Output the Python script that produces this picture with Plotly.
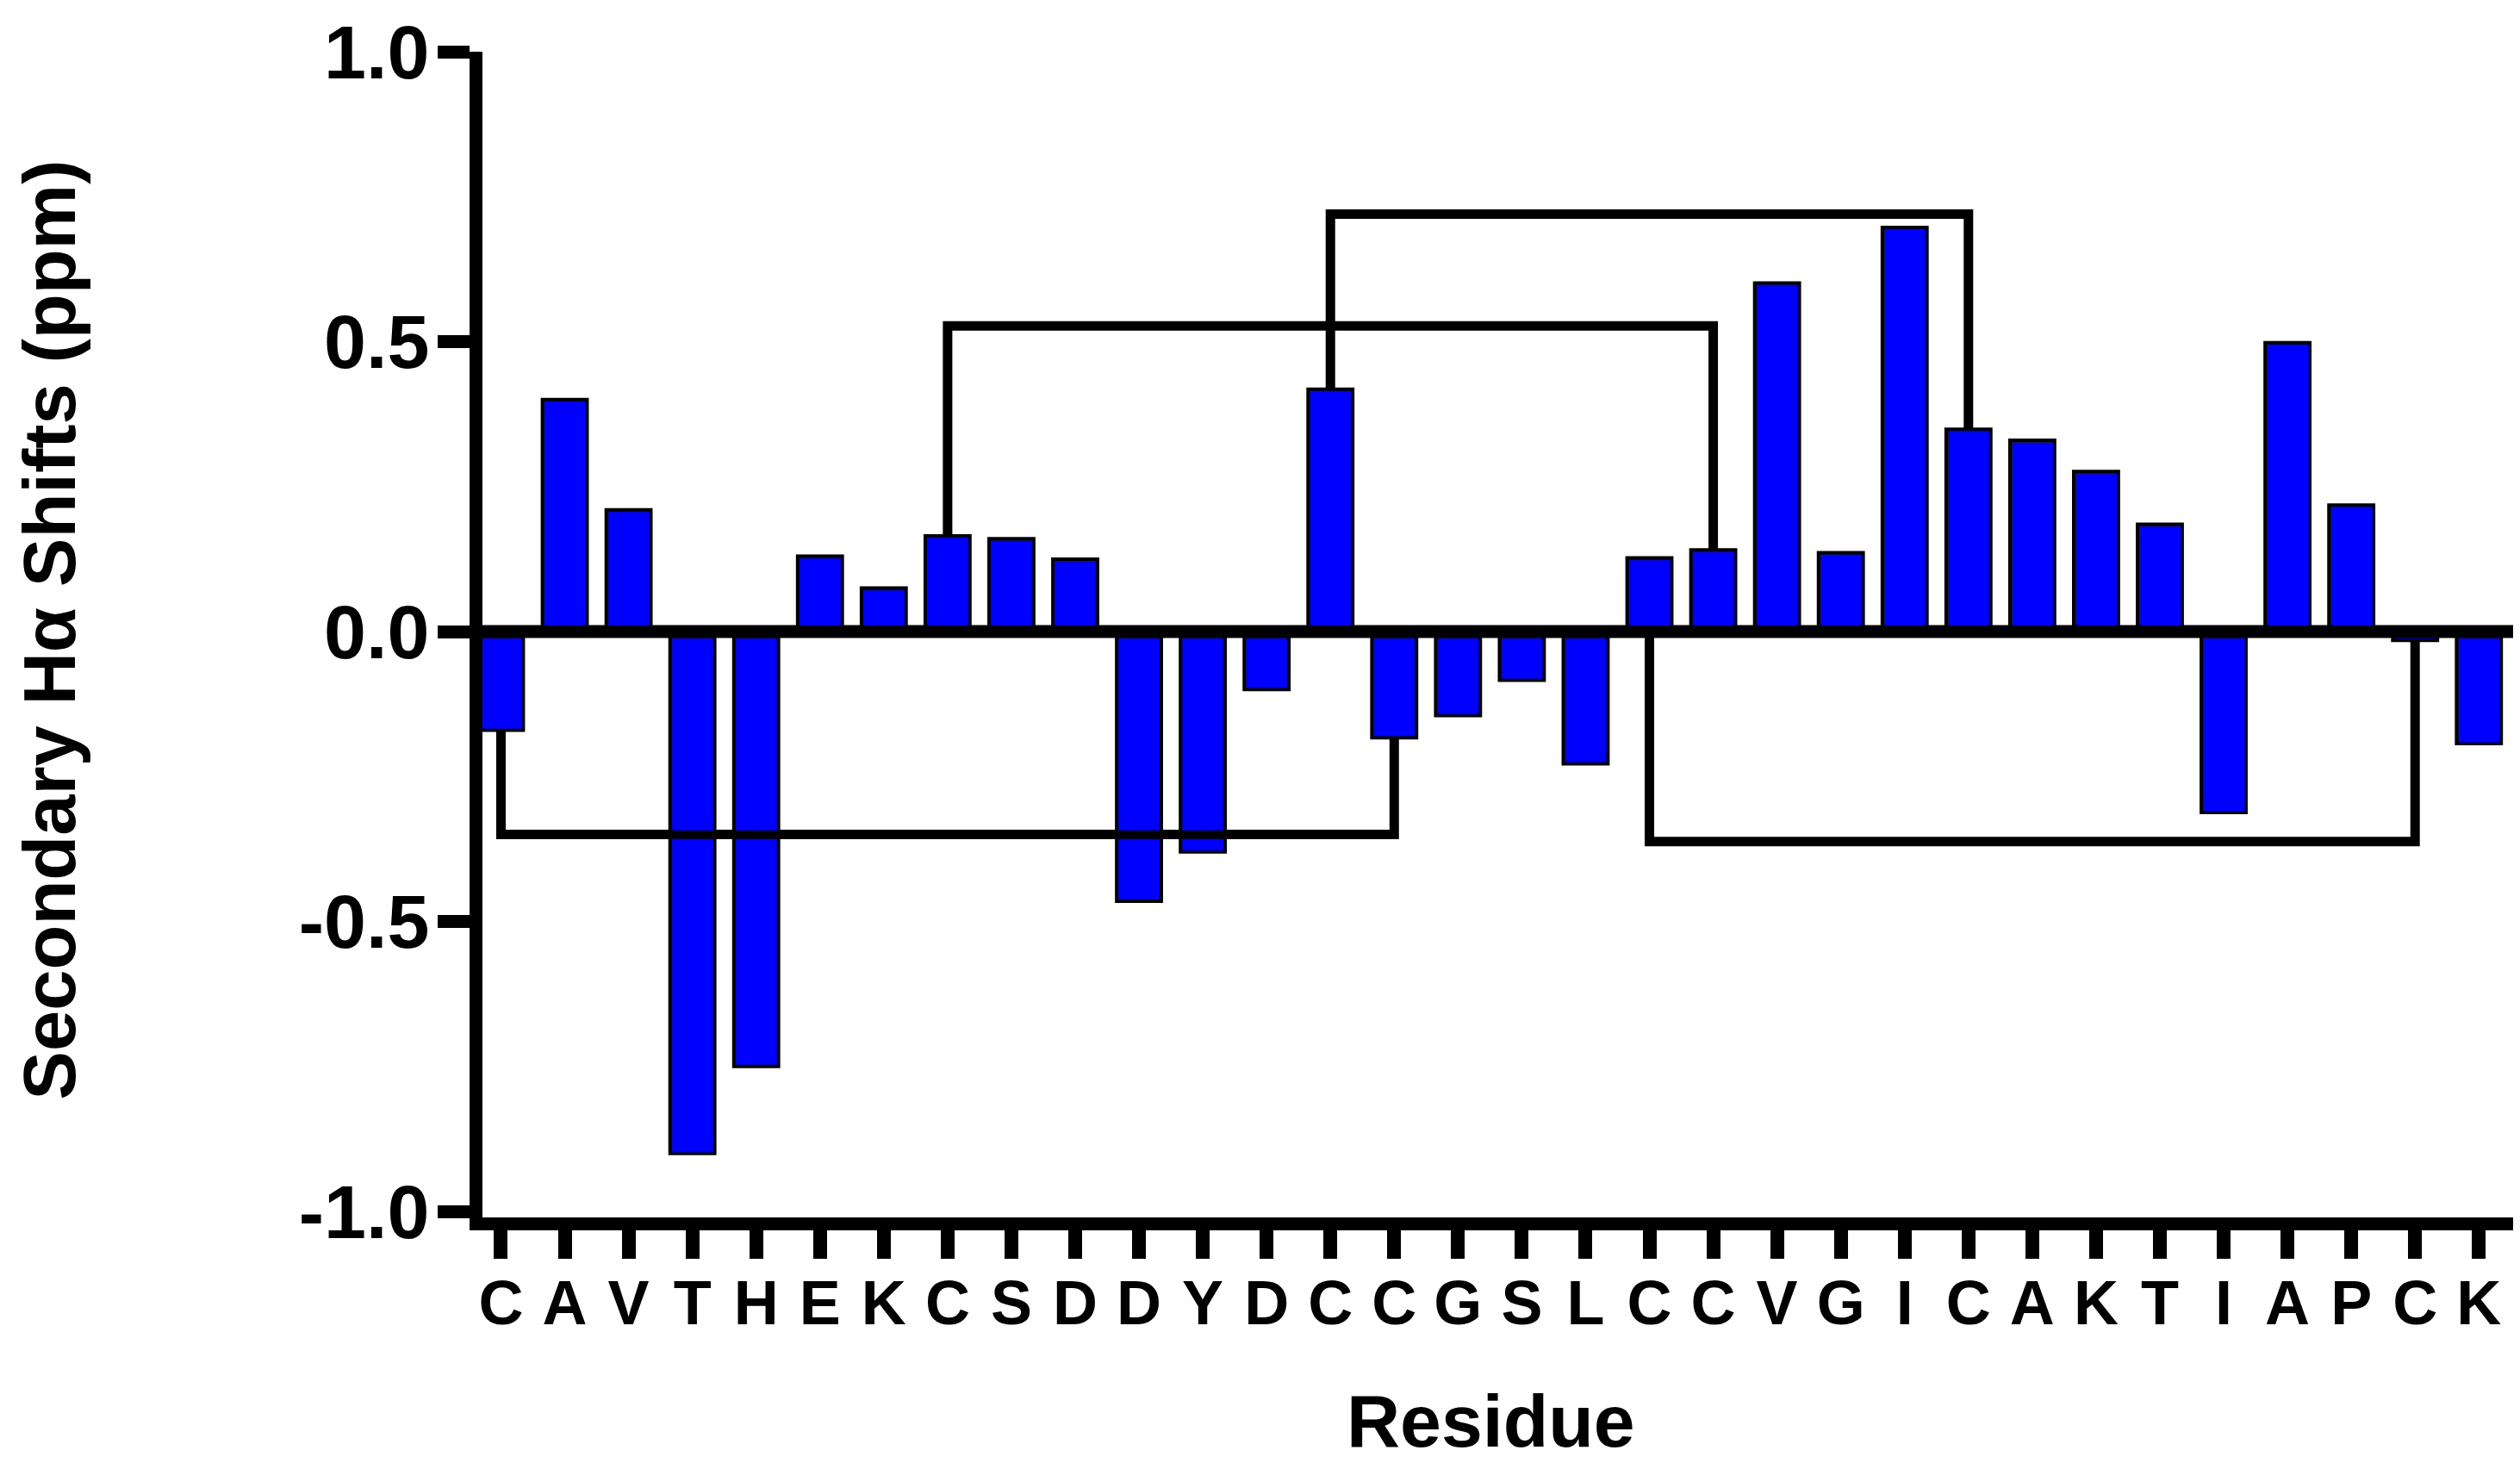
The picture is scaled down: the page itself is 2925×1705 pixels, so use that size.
import plotly.graph_objects as go

# ---- data ----
residues = ["C", "A", "V", "T", "H", "E", "K", "C", "S", "D",
            "D", "Y", "D", "C", "C", "G", "S", "L", "C", "C",
            "V", "G", "I", "C", "A", "K", "T", "I", "A", "P",
            "C", "K"]
shifts = [-0.17, 0.40, 0.21, -0.90, -0.75, 0.13, 0.075, 0.165, 0.16, 0.125,
          -0.465, -0.38, -0.10, 0.418, -0.183, -0.145, -0.084, -0.228, 0.127, 0.141,
          0.601, 0.136, 0.697, 0.349, 0.33, 0.276, 0.185, -0.312, 0.498, 0.218,
          -0.015, -0.193]
# disulfide bonds: (residue index a, residue index b, bracket level in ppm)
bond_a = [0, 7, 13, 18]
bond_b = [14, 19, 23, 30]
bond_level = [-0.35, 0.527, 0.72, -0.362]

y_ticks = [-1.0, -0.5, 0.0, 0.5, 1.0]
y_ticktext = ["-1.0", "-0.5", "0.0", "0.5", "1.0"]

x_idx = list(range(len(residues)))

FONT = "Liberation Sans, Arial, sans-serif"

fig = go.Figure()
fig.add_trace(go.Bar(
    x=x_idx, y=shifts, width=0.7,
    marker=dict(color="#0000FF", line=dict(color="black", width=4)),
    showlegend=False, hoverinfo="x+y",
))


def end_y(i, level):
    v = shifts[i]
    return v if (v > 0) == (level > 0) else 0.0


for a, b, lev in zip(bond_a, bond_b, bond_level):
    fig.add_trace(go.Scatter(
        x=[a, a, b, b],
        y=[end_y(a, lev), lev, lev, end_y(b, lev)],
        mode="lines",
        line=dict(color="black", width=11),
        showlegend=False, hoverinfo="skip",
    ))

# zero line on top of the bars
fig.add_shape(type="line", xref="paper", yref="y", x0=0, x1=1.002, y0=0, y1=0,
              line=dict(color="black", width=15), layer="above")

fig.update_layout(
    width=2925, height=1705,
    margin=dict(l=552, r=15, t=52, b=300, autoexpand=False),
    paper_bgcolor="white", plot_bgcolor="white",
    font=dict(family=FONT, color="black"),
    bargap=0.3,
    xaxis=dict(
        range=[-0.29, 31.55], automargin=False,
        tickmode="array", tickvals=x_idx, ticktext=residues,
        ticks="outside", ticklen=33, tickwidth=16, tickcolor="black",
        showline=True, linecolor="black", linewidth=15,
        showgrid=False, zeroline=False,
        ticklabelstandoff=-10,
        tickfont=dict(family=FONT, size=72, color="black", weight="bold"),
    ),
    yaxis=dict(
        range=[-1.0103, 1.0], automargin=False,
        tickmode="array", tickvals=y_ticks, ticktext=y_ticktext,
        ticks="outside", ticklen=37, tickwidth=15, tickcolor="black",
        showline=True, linecolor="black", linewidth=15,
        showgrid=False, zeroline=False,
        ticklabelstandoff=-8,
        tickfont=dict(family=FONT, size=88, color="black", weight="bold"),
    ),
    annotations=[
        dict(text="Secondary Hα Shifts (ppm)", xref="paper", yref="paper",
             x=-0.2132, y=0.5037, xanchor="center", yanchor="middle",
             textangle=-90, showarrow=False,
             font=dict(family=FONT, size=85, color="black", weight="bold")),
        dict(text="Residue", xref="paper", yref="paper",
             x=0.4962, y=-0.1741, xanchor="center", yanchor="middle",
             showarrow=False,
             font=dict(family=FONT, size=86, color="black", weight="bold")),
    ],
)

fig.write_html("out.html")
